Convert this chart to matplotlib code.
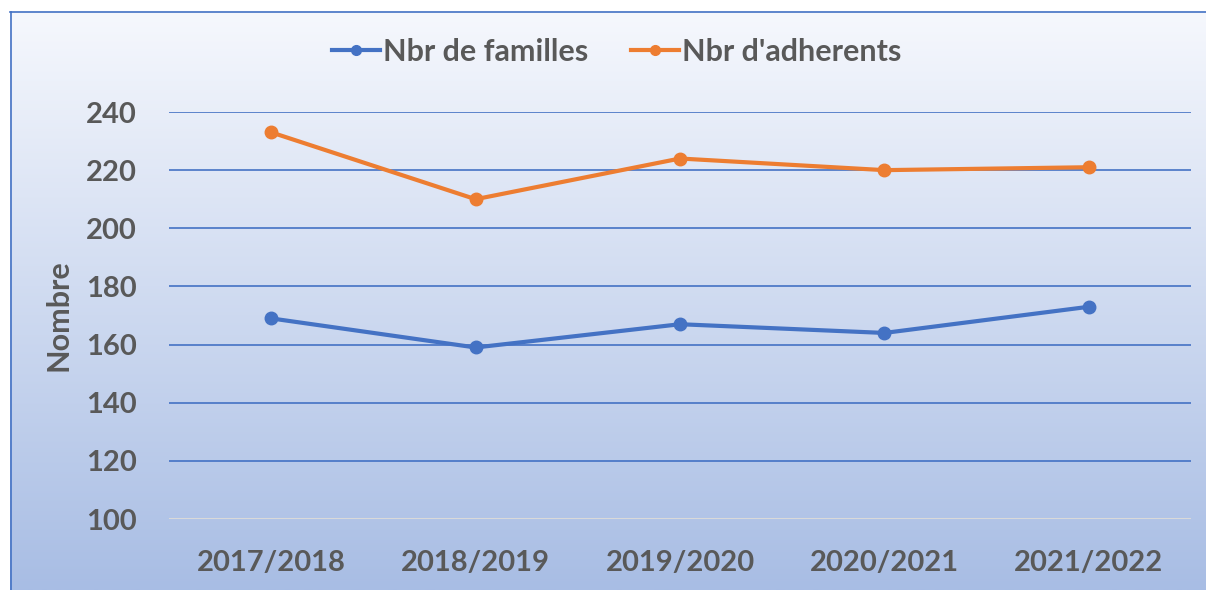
import numpy as np
import matplotlib.pyplot as plt
from matplotlib.lines import Line2D

# Données
annees = ['2017/2018', '2018/2019', '2019/2020', '2020/2021', '2021/2022']
familles = [169, 159, 167, 164, 173]
adherents = [233, 210, 224, 220, 221]
yticks = [100, 120, 140, 160, 180, 200, 220, 240]

bleu = '#4472C4'
orange = '#ED7D31'
gris = '#595959'

plt.rcParams['font.family'] = ['Lato', 'DejaVu Sans']
plt.rcParams['font.weight'] = 'bold'

W, H = 1206, 590
fig = plt.figure(figsize=(W / 100, H / 100), dpi=100)

# Fond en dégradé
bg = fig.add_axes([10 / W, 0, (W - 10) / W, (H - 11) / H])
grad = np.linspace(0, 1, 256).reshape(-1, 1)
top = np.array([246, 248, 253]) / 255
bot = np.array([168, 189, 228]) / 255
img = top + (bot - top) * grad[:, :, None]
bg.imshow(img, aspect='auto', extent=[0, 1, 0, 1])
bg.axis('off')

# Bordure
fig.add_artist(Line2D([10.5 / W, 10.5 / W], [0, 1 - 11.5 / H], color=bleu, lw=1.2, transform=fig.transFigure))
fig.add_artist(Line2D([10 / W, 1], [1 - 11.5 / H, 1 - 11.5 / H], color=bleu, lw=1.2, transform=fig.transFigure))

ax = fig.add_axes([169 / W, (H - 519) / H, (1191 - 169) / W, (519 - 112) / H])
ax.patch.set_alpha(0)
x = np.arange(len(annees))
ax.plot(x, familles, color=bleu, lw=3, marker='o', ms=9, zorder=3)
ax.plot(x, adherents, color=orange, lw=3, marker='o', ms=9, zorder=3)

ax.set_xlim(-0.5, len(annees) - 0.5)
ax.set_ylim(100, 240)
ax.set_yticks(yticks)
ax.set_xticks(x)
ax.set_xticklabels(annees)
for v in yticks[1:]:
    ax.axhline(v, color=bleu, lw=1.2, zorder=1)
ax.axhline(100, color='#D9D9D9', lw=1.5, zorder=1)
for s in ax.spines.values():
    s.set_visible(False)
ax.tick_params(length=0, labelsize=21, colors=gris)
ax.tick_params(axis='x', labelsize=21, pad=22)
ax.tick_params(axis='y', pad=23)
ax.set_ylabel('Nombre', fontsize=22, color=gris, fontweight='bold', labelpad=10)

handles = [Line2D([], [], color=bleu, lw=3, marker='o', ms=7),
           Line2D([], [], color=orange, lw=3, marker='o', ms=7)]
fig.legend(handles, ['Nbr de familles', "Nbr d'adherents"], loc='center',
           bbox_to_anchor=(617 / W, 1 - 52 / H), ncol=2, frameon=False,
           fontsize=22, labelcolor=gris, handlelength=1.55, handletextpad=0.12,
           columnspacing=1.4)

fig.savefig('out.png', dpi=100)
